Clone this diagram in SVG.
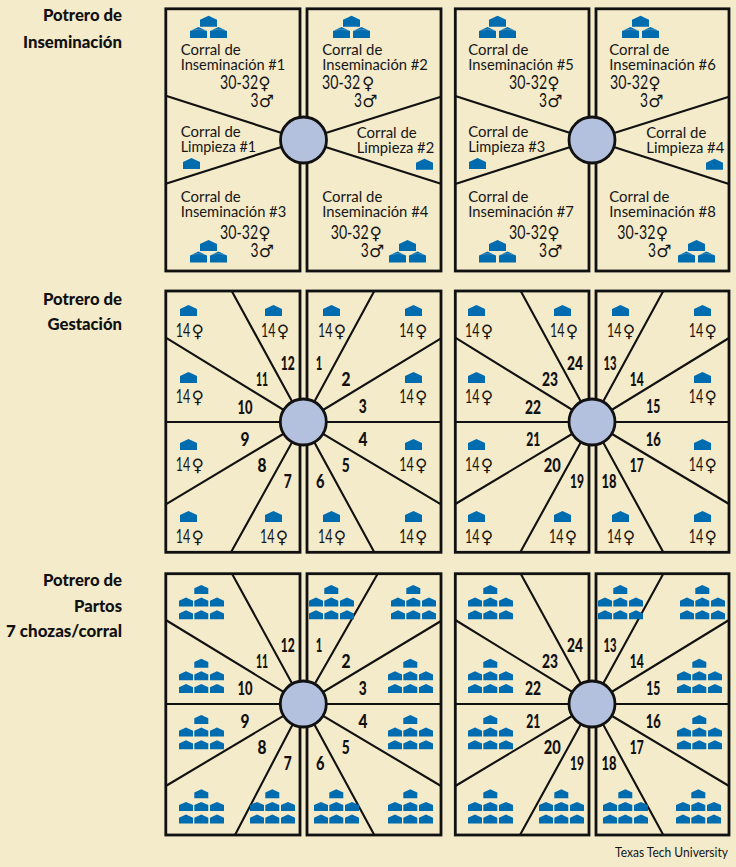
<svg xmlns="http://www.w3.org/2000/svg" width="736" height="867" viewBox="0 0 736 867">
<style>
text{font-family:Lato,"Liberation Sans",sans-serif;fill:#151515}
.t{font-size:16.2px}
.d{font-size:18.5px}
.h{font-size:17px;font-weight:900;text-anchor:end;fill:#111}
.n{font-size:19px;font-weight:900;text-anchor:middle;fill:#111}
.s{font-family:"DejaVu Sans",sans-serif;font-size:17px}
.c{font-size:13px}
.p{fill:none;stroke:#111;stroke-width:2.8}
.l{stroke:#111;stroke-width:2.1;fill:none}
.o{fill:#b3c0de;stroke:#111;stroke-width:2.8}
.r{fill:#006cb0}
.f{fill:none;stroke:#f4ebcb;stroke-width:.5;opacity:.5}
</style>
<defs>
<polygon id="H" class="r" points="0,11 0,4 8.5,0 17,4 17,11"/>
<polygon id="hs" class="r" points="0,9 0,3.2 7,0 14,3.2 14,9"/>
<g id="c3"><use href="#H" x="10" y="0"/><use href="#H" x="0" y="11.4"/><use href="#H" x="20" y="11.4"/><polyline class="f" points="0,15 8.5,13.5 17,15"/><polyline class="f" points="20,15 28.5,13.5 37,15"/></g>
<g id="c7"><use href="#hs" x="15.3" y="0"/><use href="#hs" x="0" y="12.6"/><use href="#hs" x="15.3" y="12.6"/><use href="#hs" x="31" y="12.6"/><use href="#hs" x="0" y="25.3"/><use href="#hs" x="15.3" y="25.3"/><use href="#hs" x="31" y="25.3"/></g>
</defs>
<rect width="736" height="867" fill="#f4ebcb"/>

<g id="titles">
<text class="h" x="122" y="21.2" textLength="79" lengthAdjust="spacingAndGlyphs">Potrero de</text>
<text class="h" x="122" y="48" textLength="99" lengthAdjust="spacingAndGlyphs">Inseminación</text>
<text class="h" x="122" y="304.5" textLength="79" lengthAdjust="spacingAndGlyphs">Potrero de</text>
<text class="h" x="122" y="329.7" textLength="74.5" lengthAdjust="spacingAndGlyphs">Gestación</text>
<text class="h" x="122" y="586.2" textLength="79" lengthAdjust="spacingAndGlyphs">Potrero de</text>
<text class="h" x="122" y="612" textLength="48" lengthAdjust="spacingAndGlyphs">Partos</text>
<text class="h" x="122" y="637.4" textLength="116" lengthAdjust="spacingAndGlyphs">7 chozas/corral</text>
</g>

<g id="connectors">
<path class="l" d="M165.8 95.7L303.5 140L165.8 183.7M441 96.7L303.5 140L441 183.7M455.3 96L592 140L455.3 184M729 96.7L592 140L729 184"/>
<path class="l" d="M231.7 291L303.3 422L165.8 337.7M374.3 291L303.3 422L441 338.3M165.8 422H441M231 552.3L303.3 422L165.8 504.3M374.3 552.3L303.3 422L441 504.3"/>
<path class="l" d="M520.7 291L592 422L455.3 337.7M663.3 291L592 422L729 338M455.3 422H729M520.3 552.3L592 422L455.3 504M663.3 552.3L592 422L729 504"/>
<path class="l" d="M232 573.7L303.3 704L165.8 620M377.7 573.7L303.3 704L441 621M165.8 704H441M235 835L303.3 704L165.8 786M374.3 835L303.3 704L441 786"/>
<path class="l" d="M520.7 573.7L592 704L455.3 620M663.3 573.7L592 704L729 620M455.3 704H729M520 835L592 704L455.3 786M663.3 835L592 704L729 786"/>
</g>

<g id="potrero-inseminacion">
<rect class="p" x="165.8" y="8.8" width="134.2" height="262.2"/><rect class="p" x="307" y="8.8" width="134" height="262.2"/><rect class="p" x="455.3" y="8.8" width="133.7" height="262.2"/><rect class="p" x="596" y="8.8" width="133" height="262.2"/>
<circle class="o" cx="303.5" cy="140" r="23"/><circle class="o" cx="592" cy="140" r="23"/>
<use href="#c3" x="190" y="15.7"/><use href="#c3" x="333" y="15.7"/><use href="#c3" x="479" y="15.7"/><use href="#c3" x="622" y="15.7"/>
<use href="#c3" x="190" y="240"/><use href="#c3" x="389" y="240"/><use href="#c3" x="479" y="240"/><use href="#c3" x="678" y="240"/>
<use href="#H" x="183" y="158"/><use href="#H" x="416" y="158.7"/><use href="#H" x="469" y="158"/><use href="#H" x="706" y="158.7"/>

<text class="t" x="180.7" y="54.7" textLength="60" lengthAdjust="spacingAndGlyphs">Corral de</text>
<text class="t" x="180.7" y="69.7" textLength="104.5" lengthAdjust="spacingAndGlyphs">Inseminación #1</text>
<text class="d" transform="matrix(.765 0 0 1 220 89)">30-32</text><text class="s" x="258.3" y="89">♀</text>
<text class="d" transform="matrix(.745 0 0 1 250.5 106.7)">3</text><text class="s" x="258.7" y="106.7">♂</text>
<text class="t" x="180.7" y="137.4" textLength="60" lengthAdjust="spacingAndGlyphs">Corral de</text>
<text class="t" x="180.7" y="152.4" textLength="75.5" lengthAdjust="spacingAndGlyphs">Limpieza #1</text>
<text class="t" x="180.7" y="202" textLength="60" lengthAdjust="spacingAndGlyphs">Corral de</text>
<text class="t" x="180.7" y="217" textLength="105.5" lengthAdjust="spacingAndGlyphs">Inseminación #3</text>
<text class="d" transform="matrix(.765 0 0 1 220 238.7)">30-32</text><text class="s" x="258.3" y="238.7">♀</text>
<text class="d" transform="matrix(.745 0 0 1 250.5 257)">3</text><text class="s" x="258.7" y="257">♂</text>

<text class="t" x="322.3" y="54.7" textLength="60" lengthAdjust="spacingAndGlyphs">Corral de</text>
<text class="t" x="322.3" y="69.7" textLength="105.5" lengthAdjust="spacingAndGlyphs">Inseminación #2</text>
<text class="d" transform="matrix(.765 0 0 1 322 89)">30-32</text><text class="s" x="362" y="89">♀</text>
<text class="d" transform="matrix(.745 0 0 1 354 106.7)">3</text><text class="s" x="362.2" y="106.7">♂</text>
<text class="t" x="356.7" y="138" textLength="60" lengthAdjust="spacingAndGlyphs">Corral de</text>
<text class="t" x="356.7" y="153" textLength="77.5" lengthAdjust="spacingAndGlyphs">Limpieza #2</text>
<text class="t" x="322.3" y="202" textLength="60" lengthAdjust="spacingAndGlyphs">Corral de</text>
<text class="t" x="322.3" y="217" textLength="106" lengthAdjust="spacingAndGlyphs">Inseminación #4</text>
<text class="d" transform="matrix(.765 0 0 1 330.7 238.7)">30-32</text><text class="s" x="369.5" y="238.7">♀</text>
<text class="d" transform="matrix(.745 0 0 1 360.7 257)">3</text><text class="s" x="369" y="257">♂</text>

<text class="t" x="468.3" y="54.7" textLength="60" lengthAdjust="spacingAndGlyphs">Corral de</text>
<text class="t" x="468.3" y="69.7" textLength="105.5" lengthAdjust="spacingAndGlyphs">Inseminación #5</text>
<text class="d" transform="matrix(.765 0 0 1 509 89)">30-32</text><text class="s" x="547.3" y="89">♀</text>
<text class="d" transform="matrix(.745 0 0 1 539 106.7)">3</text><text class="s" x="547.3" y="106.7">♂</text>
<text class="t" x="468.3" y="137.4" textLength="60" lengthAdjust="spacingAndGlyphs">Corral de</text>
<text class="t" x="468.3" y="152.4" textLength="77" lengthAdjust="spacingAndGlyphs">Limpieza #3</text>
<text class="t" x="468.3" y="202" textLength="60" lengthAdjust="spacingAndGlyphs">Corral de</text>
<text class="t" x="468.3" y="217" textLength="105.5" lengthAdjust="spacingAndGlyphs">Inseminación #7</text>
<text class="d" transform="matrix(.765 0 0 1 509 238.7)">30-32</text><text class="s" x="547.3" y="238.7">♀</text>
<text class="d" transform="matrix(.745 0 0 1 539 257)">3</text><text class="s" x="547.3" y="257">♂</text>

<text class="t" x="609.3" y="54.7" textLength="60" lengthAdjust="spacingAndGlyphs">Corral de</text>
<text class="t" x="609.3" y="69.7" textLength="106.5" lengthAdjust="spacingAndGlyphs">Inseminación #6</text>
<text class="d" transform="matrix(.765 0 0 1 610 89)">30-32</text><text class="s" x="648.3" y="89">♀</text>
<text class="d" transform="matrix(.745 0 0 1 640 106.7)">3</text><text class="s" x="648.3" y="106.7">♂</text>
<text class="t" x="646.3" y="138" textLength="60" lengthAdjust="spacingAndGlyphs">Corral de</text>
<text class="t" x="646.3" y="153" textLength="78" lengthAdjust="spacingAndGlyphs">Limpieza #4</text>
<text class="t" x="609.3" y="202" textLength="60" lengthAdjust="spacingAndGlyphs">Corral de</text>
<text class="t" x="609.3" y="217" textLength="106.5" lengthAdjust="spacingAndGlyphs">Inseminación #8</text>
<text class="d" transform="matrix(.765 0 0 1 617.3 238.7)">30-32</text><text class="s" x="655.8" y="238.7">♀</text>
<text class="d" transform="matrix(.745 0 0 1 648 257)">3</text><text class="s" x="656.3" y="257">♂</text>
</g>

<g id="potrero-gestacion">
<rect class="p" x="165.8" y="291" width="134.2" height="261.3"/><rect class="p" x="307" y="291" width="134" height="261.3"/><rect class="p" x="455.3" y="291" width="133.7" height="261.3"/><rect class="p" x="596" y="291" width="133" height="261.3"/>
<circle class="o" cx="303.3" cy="422" r="23"/><circle class="o" cx="592" cy="422" r="23"/>
<use href="#H" x="180" y="305"/><use href="#H" x="265" y="305"/><use href="#H" x="180" y="372"/><use href="#H" x="180" y="439"/><use href="#H" x="180" y="511"/><use href="#H" x="265" y="511"/>
<use href="#H" x="323" y="305"/><use href="#H" x="405" y="305"/><use href="#H" x="405" y="372"/><use href="#H" x="405" y="439"/><use href="#H" x="323" y="511"/><use href="#H" x="405" y="511"/>
<use href="#H" x="468" y="305"/><use href="#H" x="554" y="305"/><use href="#H" x="468" y="372"/><use href="#H" x="468" y="439"/><use href="#H" x="468" y="511"/><use href="#H" x="554" y="511"/>
<use href="#H" x="612" y="305"/><use href="#H" x="694" y="305"/><use href="#H" x="694" y="372"/><use href="#H" x="694" y="439"/><use href="#H" x="612" y="511"/><use href="#H" x="694" y="511"/>

<text class="d" transform="matrix(.676 0 0 1 175.7 336.7)">14</text><text class="s" x="191.5" y="336.7">♀</text>
<text class="d" transform="matrix(.676 0 0 1 261 336.7)">14</text><text class="s" x="276.8" y="336.7">♀</text>
<text class="d" transform="matrix(.676 0 0 1 175.7 403)">14</text><text class="s" x="191.5" y="403">♀</text>
<text class="d" transform="matrix(.676 0 0 1 175.7 471)">14</text><text class="s" x="191.5" y="471">♀</text>
<text class="d" transform="matrix(.676 0 0 1 175.7 543)">14</text><text class="s" x="191.5" y="543">♀</text>
<text class="d" transform="matrix(.676 0 0 1 260 543)">14</text><text class="s" x="275.8" y="543">♀</text>

<text class="d" transform="matrix(.676 0 0 1 318 336.7)">14</text><text class="s" x="333.8" y="336.7">♀</text>
<text class="d" transform="matrix(.676 0 0 1 399.3 336.7)">14</text><text class="s" x="415.1" y="336.7">♀</text>
<text class="d" transform="matrix(.676 0 0 1 399.3 403)">14</text><text class="s" x="415.1" y="403">♀</text>
<text class="d" transform="matrix(.676 0 0 1 399.3 471)">14</text><text class="s" x="415.1" y="471">♀</text>
<text class="d" transform="matrix(.676 0 0 1 318 543)">14</text><text class="s" x="333.8" y="543">♀</text>
<text class="d" transform="matrix(.676 0 0 1 399.3 543)">14</text><text class="s" x="415.1" y="543">♀</text>

<text class="d" transform="matrix(.676 0 0 1 465 336.7)">14</text><text class="s" x="480.8" y="336.7">♀</text>
<text class="d" transform="matrix(.676 0 0 1 550 336.7)">14</text><text class="s" x="565.8" y="336.7">♀</text>
<text class="d" transform="matrix(.676 0 0 1 465 403)">14</text><text class="s" x="480.8" y="403">♀</text>
<text class="d" transform="matrix(.676 0 0 1 465 471)">14</text><text class="s" x="480.8" y="471">♀</text>
<text class="d" transform="matrix(.676 0 0 1 465 543)">14</text><text class="s" x="480.8" y="543">♀</text>
<text class="d" transform="matrix(.676 0 0 1 549 543)">14</text><text class="s" x="564.8" y="543">♀</text>

<text class="d" transform="matrix(.676 0 0 1 607 336.7)">14</text><text class="s" x="622.8" y="336.7">♀</text>
<text class="d" transform="matrix(.676 0 0 1 688.7 336.7)">14</text><text class="s" x="704.5" y="336.7">♀</text>
<text class="d" transform="matrix(.676 0 0 1 688.7 403)">14</text><text class="s" x="704.5" y="403">♀</text>
<text class="d" transform="matrix(.676 0 0 1 688.7 471)">14</text><text class="s" x="704.5" y="471">♀</text>
<text class="d" transform="matrix(.676 0 0 1 607 543)">14</text><text class="s" x="622.8" y="543">♀</text>
<text class="d" transform="matrix(.676 0 0 1 688.7 543)">14</text><text class="s" x="704.5" y="543">♀</text>

<g id="gestacion-numeros">
<text class="n" x="319" y="370" textLength="6.5" lengthAdjust="spacingAndGlyphs">1</text><text class="n" x="346" y="385.7" textLength="9" lengthAdjust="spacingAndGlyphs">2</text><text class="n" x="362.7" y="413.3" textLength="8" lengthAdjust="spacingAndGlyphs">3</text><text class="n" x="363" y="445.7" textLength="9" lengthAdjust="spacingAndGlyphs">4</text><text class="n" x="345.7" y="471.7" textLength="8" lengthAdjust="spacingAndGlyphs">5</text><text class="n" x="320.3" y="488.3" textLength="8.5" lengthAdjust="spacingAndGlyphs">6</text><text class="n" x="287.7" y="488.3" textLength="8" lengthAdjust="spacingAndGlyphs">7</text><text class="n" x="262" y="472" textLength="9" lengthAdjust="spacingAndGlyphs">8</text><text class="n" x="245" y="445.7" textLength="9" lengthAdjust="spacingAndGlyphs">9</text><text class="n" x="245" y="413.7" textLength="15" lengthAdjust="spacingAndGlyphs">10</text><text class="n" x="262" y="385.7" textLength="12" lengthAdjust="spacingAndGlyphs">11</text><text class="n" x="287.7" y="370" textLength="14" lengthAdjust="spacingAndGlyphs">12</text>
<text class="n" x="610" y="370" textLength="13" lengthAdjust="spacingAndGlyphs">13</text><text class="n" x="636.7" y="385.7" textLength="14" lengthAdjust="spacingAndGlyphs">14</text><text class="n" x="653.3" y="413.3" textLength="14" lengthAdjust="spacingAndGlyphs">15</text><text class="n" x="653.3" y="445.7" textLength="15" lengthAdjust="spacingAndGlyphs">16</text><text class="n" x="636.7" y="471.7" textLength="14" lengthAdjust="spacingAndGlyphs">17</text><text class="n" x="609" y="488.3" textLength="15" lengthAdjust="spacingAndGlyphs">18</text><text class="n" x="577" y="488.3" textLength="14" lengthAdjust="spacingAndGlyphs">19</text><text class="n" x="552.3" y="472" textLength="17" lengthAdjust="spacingAndGlyphs">20</text><text class="n" x="533.3" y="445.7" textLength="14" lengthAdjust="spacingAndGlyphs">21</text><text class="n" x="533" y="413.7" textLength="16" lengthAdjust="spacingAndGlyphs">22</text><text class="n" x="550" y="385.7" textLength="16" lengthAdjust="spacingAndGlyphs">23</text><text class="n" x="575" y="370" textLength="16" lengthAdjust="spacingAndGlyphs">24</text>
</g>
</g>

<g id="potrero-partos">
<rect class="p" x="165.8" y="573.7" width="134.2" height="261.3"/><rect class="p" x="307" y="573.7" width="134" height="261.3"/><rect class="p" x="455.3" y="573.7" width="133.7" height="261.3"/><rect class="p" x="596" y="573.7" width="133" height="261.3"/>
<circle class="o" cx="303.3" cy="704" r="23"/><circle class="o" cx="592" cy="704" r="23"/>
<use href="#c7" x="179" y="585"/><use href="#c7" x="179" y="658.7"/><use href="#c7" x="179" y="715"/><use href="#c7" x="179" y="789.3"/><use href="#c7" x="250" y="789.3"/>
<use href="#c7" x="309" y="585"/><use href="#c7" x="391" y="585"/><use href="#c7" x="388" y="658.7"/><use href="#c7" x="388" y="715"/><use href="#c7" x="314" y="789.3"/><use href="#c7" x="388" y="789.3"/>
<use href="#c7" x="468" y="585"/><use href="#c7" x="468" y="658.7"/><use href="#c7" x="468" y="715"/><use href="#c7" x="468" y="789.3"/><use href="#c7" x="539" y="789.3"/>
<use href="#c7" x="598" y="585"/><use href="#c7" x="680" y="585"/><use href="#c7" x="677" y="658.7"/><use href="#c7" x="677" y="715"/><use href="#c7" x="603" y="789.3"/><use href="#c7" x="676" y="789.3"/>
<g id="partos-numeros">
<text class="n" x="319" y="652.3" textLength="6.5" lengthAdjust="spacingAndGlyphs">1</text><text class="n" x="346" y="668" textLength="9" lengthAdjust="spacingAndGlyphs">2</text><text class="n" x="362.7" y="695" textLength="8" lengthAdjust="spacingAndGlyphs">3</text><text class="n" x="363" y="727.7" textLength="9" lengthAdjust="spacingAndGlyphs">4</text><text class="n" x="345.7" y="754" textLength="8" lengthAdjust="spacingAndGlyphs">5</text><text class="n" x="320.3" y="770" textLength="8.5" lengthAdjust="spacingAndGlyphs">6</text><text class="n" x="287.7" y="770" textLength="8" lengthAdjust="spacingAndGlyphs">7</text><text class="n" x="262" y="754" textLength="9" lengthAdjust="spacingAndGlyphs">8</text><text class="n" x="245" y="727.7" textLength="9" lengthAdjust="spacingAndGlyphs">9</text><text class="n" x="245" y="695" textLength="15" lengthAdjust="spacingAndGlyphs">10</text><text class="n" x="262" y="668" textLength="12" lengthAdjust="spacingAndGlyphs">11</text><text class="n" x="287.7" y="652.3" textLength="14" lengthAdjust="spacingAndGlyphs">12</text>
<text class="n" x="610" y="652.3" textLength="13" lengthAdjust="spacingAndGlyphs">13</text><text class="n" x="636.7" y="668" textLength="14" lengthAdjust="spacingAndGlyphs">14</text><text class="n" x="653.3" y="695" textLength="14" lengthAdjust="spacingAndGlyphs">15</text><text class="n" x="653.3" y="727.7" textLength="15" lengthAdjust="spacingAndGlyphs">16</text><text class="n" x="636.7" y="754" textLength="14" lengthAdjust="spacingAndGlyphs">17</text><text class="n" x="609" y="770" textLength="15" lengthAdjust="spacingAndGlyphs">18</text><text class="n" x="577" y="770" textLength="14" lengthAdjust="spacingAndGlyphs">19</text><text class="n" x="552.3" y="754" textLength="17" lengthAdjust="spacingAndGlyphs">20</text><text class="n" x="533.3" y="727.7" textLength="14" lengthAdjust="spacingAndGlyphs">21</text><text class="n" x="533" y="695" textLength="16" lengthAdjust="spacingAndGlyphs">22</text><text class="n" x="550" y="668" textLength="16" lengthAdjust="spacingAndGlyphs">23</text><text class="n" x="575" y="652.3" textLength="16" lengthAdjust="spacingAndGlyphs">24</text>
</g>
</g>

<text id="credit" class="c" x="615" y="857.3" textLength="113" lengthAdjust="spacingAndGlyphs">Texas Tech University</text>
</svg>
